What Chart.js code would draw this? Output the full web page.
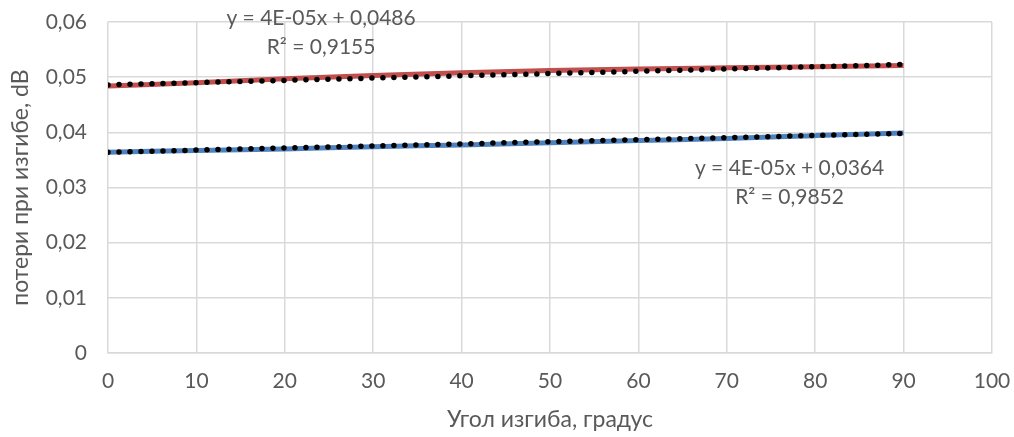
<!DOCTYPE html>
<html>
<head>
<meta charset="utf-8">
<script src="https://cdn.jsdelivr.net/npm/chart.js@4/dist/chart.umd.min.js"></script>
<style>
  html, body { margin: 0; padding: 0; background: #fff; }
  #wrap { width: 1014px; height: 437px; }
</style>
</head>
<body>
<div id="wrap"><canvas id="chart"></canvas></div>
<script>
const angles = [0, 10, 20, 30, 40, 50, 60, 70, 80, 90];
const lossRed = [0.0484, 0.0490, 0.0497, 0.0503, 0.0508, 0.0512, 0.0515, 0.0517, 0.0519, 0.0521];
const lossBlue = [0.0364, 0.0367, 0.0370, 0.0374, 0.0377, 0.0381, 0.0385, 0.0389, 0.0394, 0.0399];

const trendX = [0, 90];
const trendRed = [0.0486, 0.0523];
const trendBlue = [0.0364, 0.0398];

const trendLabels = [
    ['y = 4E-05x + 0,0486', 'R² = 0,9155'],
    ['y = 4E-05x + 0,0364', 'R² = 0,9852']
];

const xTicks = [0, 10, 20, 30, 40, 50, 60, 70, 80, 90, 100];
const yTicks = [0, 0.01, 0.02, 0.03, 0.04, 0.05, 0.06];

const textColor = '#595959';
const gridColor = '#d9d9d9';
const fontFamily = 'Lato, "Open Sans", sans-serif';

function toPoints(xs, ys) {
    return xs.map((x, i) => ({ x: x, y: ys[i] }));
}

// draws the trendline equations like Excel does
const trendTextPlugin = {
    id: 'trendText',
    afterDatasetsDraw(chart) {
        const ctx = chart.ctx;
        const xs = chart.scales.x, ys = chart.scales.y;
        const spots = [
            { x: 24.1, y: 0.0607 },
            { x: 77.1, y: 0.0335 }
        ];
        ctx.save();
        ctx.fillStyle = textColor;
        ctx.font = '21px ' + fontFamily;
        ctx.textAlign = 'center';
        ctx.textBaseline = 'middle';
        trendLabels.forEach((lines, i) => {
            const px = xs.getPixelForValue(spots[i].x);
            const py = ys.getPixelForValue(spots[i].y);
            ctx.fillText(lines[0], px, py);
            ctx.fillText(lines[1], px, py + 29);
        });
        ctx.restore();
    }
};

new Chart(document.getElementById('chart'), {
    type: 'scatter',
    data: {
        datasets: [
            {
                data: toPoints(trendX, trendRed),
                showLine: true,
                borderColor: '#000',
                borderWidth: 5.5,
                borderDash: [0, 11],
                borderCapStyle: 'round',
                pointRadius: 0,
                order: 0
            },
            {
                data: toPoints(trendX, trendBlue),
                showLine: true,
                borderColor: '#000',
                borderWidth: 5.5,
                borderDash: [0, 11],
                borderCapStyle: 'round',
                pointRadius: 0,
                order: 0
            },
            {
                data: toPoints(angles, lossRed),
                showLine: true,
                borderColor: '#c0504d',
                borderWidth: 5,
                cubicInterpolationMode: 'monotone',
                pointRadius: 0,
                order: 1
            },
            {
                data: toPoints(angles, lossBlue),
                showLine: true,
                borderColor: '#4f81bd',
                borderWidth: 5,
                cubicInterpolationMode: 'monotone',
                pointRadius: 0,
                order: 1
            }
        ]
    },
    options: {
        responsive: true,
        maintainAspectRatio: false,
        animation: false,
        layout: { padding: { top: 22, right: 22, left: 0, bottom: 0 } },
        plugins: {
            legend: { display: false },
            tooltip: { enabled: false }
        },
        scales: {
            x: {
                type: 'linear',
                min: 0,
                max: 100,
                afterBuildTicks: s => { s.ticks = xTicks.map(v => ({ value: v })); },
                afterFit: s => { s.height = 84; s.paddingLeft = 0; s.paddingRight = 0; },
                grid: { color: gridColor, lineWidth: 1.5, drawTicks: false },
                border: { color: gridColor, width: 1.5 },
                ticks: { color: textColor, font: { size: 21, family: fontFamily }, padding: 16, maxRotation: 0 },
                title: { display: true, text: 'Угол изгиба, градус', color: textColor, font: { size: 23, family: fontFamily }, padding: { top: 5 } }
            },
            y: {
                min: 0,
                max: 0.06,
                afterBuildTicks: s => { s.ticks = yTicks.map(v => ({ value: v })); },
                afterFit: s => { s.width = 108; s.paddingTop = 0; s.paddingBottom = 0; },
                grid: { color: gridColor, lineWidth: 1.5, drawTicks: false },
                border: { display: false },
                ticks: {
                    color: textColor,
                    font: { size: 21, family: fontFamily },
                    padding: 21,
                    callback: v => v === 0 ? '0' : v.toFixed(2).replace('.', ',')
                },
                title: { display: true, text: 'потери при изгибе, dB', color: textColor, font: { size: 23, family: fontFamily }, padding: { bottom: 0, top: 7 } }
            }
        }
    },
    plugins: [trendTextPlugin]
});
</script>
</body>
</html>
